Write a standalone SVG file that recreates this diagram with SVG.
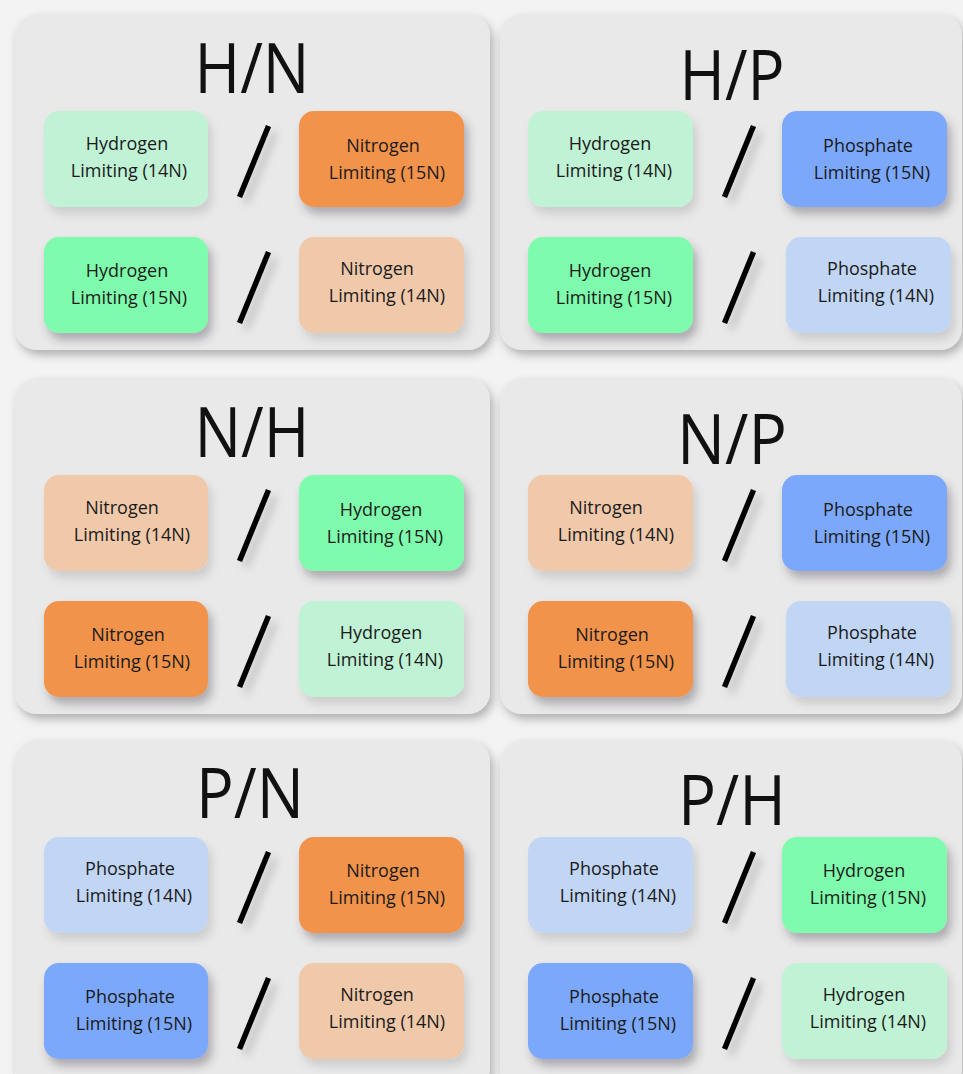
<svg xmlns="http://www.w3.org/2000/svg" width="963" height="1074" viewBox="0 0 963 1074">
<defs>
<filter id="pshadow" x="-10%" y="-10%" width="125%" height="125%"><feDropShadow dx="3" dy="5" stdDeviation="5" flood-color="#000" flood-opacity="0.28"/></filter>
<filter id="bshadow" x="-20%" y="-20%" width="150%" height="160%"><feDropShadow dx="4" dy="7" stdDeviation="5" flood-color="#3a3040" flood-opacity="0.35"/></filter>
<filter id="lshadow" x="-20%" y="-20%" width="150%" height="160%"><feDropShadow dx="4" dy="7" stdDeviation="5" flood-color="#000" flood-opacity="0.12"/></filter>
<filter id="sshadow" x="-100%" y="-20%" width="400%" height="160%"><feDropShadow dx="6" dy="6" stdDeviation="4" flood-color="#000" flood-opacity="0.2"/></filter>
</defs>
<style>
.panel{fill:#E9E9E9;filter:url(#pshadow)}
.title{font-family:"Open Sans","Liberation Sans",sans-serif;font-size:70px;fill:#111;text-anchor:middle}
.box{filter:url(#bshadow)}
.lbox{filter:url(#lshadow)}
.lg{fill:#C0F2D5}.g{fill:#7EFBAC}.o{fill:#F2934C}.lo{fill:#F0C9AB}.b{fill:#7BA8FC}.lb{fill:#C1D5F5}
.t{font-family:"Open Sans","Liberation Sans",sans-serif;font-size:18px;fill:#1a1a1a;text-anchor:middle}
.sl{stroke:#000;stroke-width:5.5;filter:url(#sshadow)}
</style>
<rect width="963" height="1074" fill="#F3F3F3"/>

<!-- Panel H/N -->
<g id="panel-HN">
<rect class="panel" x="15" y="14" width="475" height="336" rx="22"/>
<text class="title" x="252" y="93" textLength="115" lengthAdjust="spacingAndGlyphs">H/N</text>
<g id="hn-h14"><rect class="lbox lg" x="44" y="111" width="164" height="96" rx="15"/><text class="t" x="127" y="150">Hydrogen</text><text class="t" x="129" y="177">Limiting (14N)</text></g>
<line class="sl" x1="268.5" y1="126" x2="239.5" y2="197"/>
<g id="hn-n15"><rect class="box o" x="299" y="111" width="165" height="96" rx="15"/><text class="t" x="383" y="152">Nitrogen</text><text class="t" x="387" y="179">Limiting (15N)</text></g>
<g id="hn-h15"><rect class="box g" x="44" y="237" width="164" height="96" rx="15"/><text class="t" x="127" y="277">Hydrogen</text><text class="t" x="129" y="304">Limiting (15N)</text></g>
<line class="sl" x1="268.5" y1="252" x2="239.5" y2="323"/>
<g id="hn-n14"><rect class="lbox lo" x="299" y="237" width="165" height="96" rx="15"/><text class="t" x="377" y="275">Nitrogen</text><text class="t" x="387" y="302">Limiting (14N)</text></g>
</g>

<!-- Panel H/P -->
<g id="panel-HP">
<rect class="panel" x="500" y="14" width="462" height="336" rx="22"/>
<text class="title" x="732" y="100" textLength="105" lengthAdjust="spacingAndGlyphs">H/P</text>
<g id="hp-h14"><rect class="lbox lg" x="528" y="111" width="165" height="96" rx="15"/><text class="t" x="610" y="150">Hydrogen</text><text class="t" x="614" y="177">Limiting (14N)</text></g>
<line class="sl" x1="753.5" y1="126" x2="724.5" y2="197"/>
<g id="hp-p15"><rect class="box b" x="782" y="111" width="165" height="96" rx="15"/><text class="t" x="868" y="152">Phosphate</text><text class="t" x="872" y="179">Limiting (15N)</text></g>
<g id="hp-h15"><rect class="box g" x="528" y="237" width="165" height="96" rx="15"/><text class="t" x="610" y="277">Hydrogen</text><text class="t" x="614" y="304">Limiting (15N)</text></g>
<line class="sl" x1="753.5" y1="252" x2="724.5" y2="323"/>
<g id="hp-p14"><rect class="lbox lb" x="786" y="237" width="165" height="96" rx="15"/><text class="t" x="872" y="275">Phosphate</text><text class="t" x="876" y="302">Limiting (14N)</text></g>
</g>

<!-- Panel N/H -->
<g id="panel-NH">
<rect class="panel" x="15" y="378" width="475" height="336" rx="22"/>
<text class="title" x="252" y="457" textLength="115" lengthAdjust="spacingAndGlyphs">N/H</text>
<g id="nh-n14"><rect class="lbox lo" x="44" y="475" width="164" height="96" rx="15"/><text class="t" x="122" y="514">Nitrogen</text><text class="t" x="132" y="541">Limiting (14N)</text></g>
<line class="sl" x1="268.5" y1="490" x2="239.5" y2="561"/>
<g id="nh-h15"><rect class="box g" x="299" y="475" width="165" height="96" rx="15"/><text class="t" x="381" y="516">Hydrogen</text><text class="t" x="385" y="543">Limiting (15N)</text></g>
<g id="nh-n15"><rect class="box o" x="44" y="601" width="164" height="96" rx="15"/><text class="t" x="128" y="641">Nitrogen</text><text class="t" x="132" y="668">Limiting (15N)</text></g>
<line class="sl" x1="268.5" y1="616" x2="239.5" y2="687"/>
<g id="nh-h14"><rect class="lbox lg" x="299" y="601" width="165" height="96" rx="15"/><text class="t" x="381" y="639">Hydrogen</text><text class="t" x="385" y="666">Limiting (14N)</text></g>
</g>

<!-- Panel N/P -->
<g id="panel-NP">
<rect class="panel" x="500" y="378" width="462" height="336" rx="22"/>
<text class="title" x="732" y="464" textLength="110" lengthAdjust="spacingAndGlyphs">N/P</text>
<g id="np-n14"><rect class="lbox lo" x="528" y="475" width="165" height="96" rx="15"/><text class="t" x="606" y="514">Nitrogen</text><text class="t" x="616" y="541">Limiting (14N)</text></g>
<line class="sl" x1="753.5" y1="490" x2="724.5" y2="561"/>
<g id="np-p15"><rect class="box b" x="782" y="475" width="165" height="96" rx="15"/><text class="t" x="868" y="516">Phosphate</text><text class="t" x="872" y="543">Limiting (15N)</text></g>
<g id="np-n15"><rect class="box o" x="528" y="601" width="165" height="96" rx="15"/><text class="t" x="612" y="641">Nitrogen</text><text class="t" x="616" y="668">Limiting (15N)</text></g>
<line class="sl" x1="753.5" y1="616" x2="724.5" y2="687"/>
<g id="np-p14"><rect class="lbox lb" x="786" y="601" width="165" height="96" rx="15"/><text class="t" x="872" y="639">Phosphate</text><text class="t" x="876" y="666">Limiting (14N)</text></g>
</g>

<!-- Panel P/N -->
<g id="panel-PN">
<rect class="panel" x="15" y="740" width="475" height="350" rx="22"/>
<text class="title" x="250" y="818" textLength="108" lengthAdjust="spacingAndGlyphs">P/N</text>
<g id="pn-p14"><rect class="lbox lb" x="44" y="837" width="164" height="96" rx="15"/><text class="t" x="130" y="875">Phosphate</text><text class="t" x="134" y="902">Limiting (14N)</text></g>
<line class="sl" x1="268.5" y1="852" x2="239.5" y2="923"/>
<g id="pn-n15"><rect class="box o" x="299" y="837" width="165" height="96" rx="15"/><text class="t" x="383" y="877">Nitrogen</text><text class="t" x="387" y="904">Limiting (15N)</text></g>
<g id="pn-p15"><rect class="box b" x="44" y="963" width="164" height="96" rx="15"/><text class="t" x="130" y="1003">Phosphate</text><text class="t" x="134" y="1030">Limiting (15N)</text></g>
<line class="sl" x1="268.5" y1="978" x2="239.5" y2="1049"/>
<g id="pn-n14"><rect class="lbox lo" x="299" y="963" width="165" height="96" rx="15"/><text class="t" x="377" y="1001">Nitrogen</text><text class="t" x="387" y="1028">Limiting (14N)</text></g>
</g>

<!-- Panel P/H -->
<g id="panel-PH">
<rect class="panel" x="500" y="740" width="462" height="350" rx="22"/>
<text class="title" x="732" y="825" textLength="108" lengthAdjust="spacingAndGlyphs">P/H</text>
<g id="ph-p14"><rect class="lbox lb" x="528" y="837" width="165" height="96" rx="15"/><text class="t" x="614" y="875">Phosphate</text><text class="t" x="618" y="902">Limiting (14N)</text></g>
<line class="sl" x1="753.5" y1="852" x2="724.5" y2="923"/>
<g id="ph-h15"><rect class="box g" x="782" y="837" width="165" height="96" rx="15"/><text class="t" x="864" y="877">Hydrogen</text><text class="t" x="868" y="904">Limiting (15N)</text></g>
<g id="ph-p15"><rect class="box b" x="528" y="963" width="165" height="96" rx="15"/><text class="t" x="614" y="1003">Phosphate</text><text class="t" x="618" y="1030">Limiting (15N)</text></g>
<line class="sl" x1="753.5" y1="978" x2="724.5" y2="1049"/>
<g id="ph-h14"><rect class="lbox lg" x="782" y="963" width="165" height="96" rx="15"/><text class="t" x="864" y="1001">Hydrogen</text><text class="t" x="868" y="1028">Limiting (14N)</text></g>
</g>

<g id="connectors"/>
</svg>
